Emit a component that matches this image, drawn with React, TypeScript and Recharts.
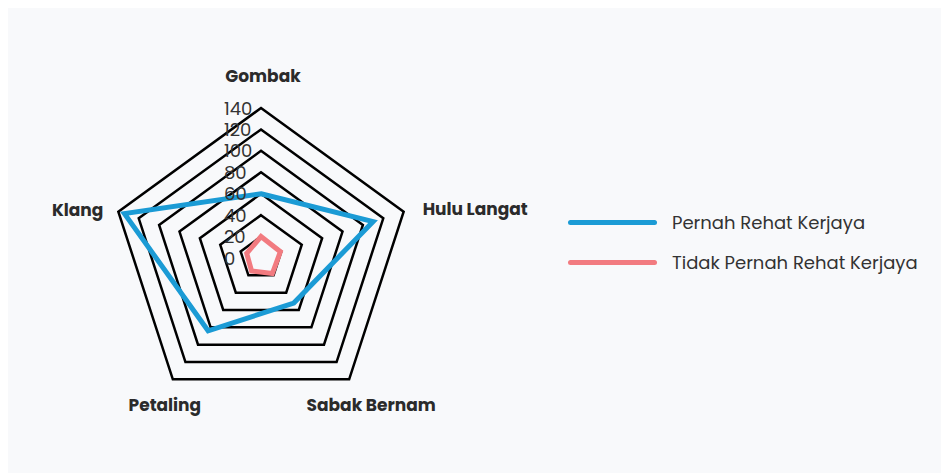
import { RadarChart, Radar, PolarGrid, PolarAngleAxis, PolarRadiusAxis, Legend } from 'recharts';

const districts = ['Gombak', 'Hulu Langat', 'Sabak Bernam', 'Petaling', 'Klang'];
const pernahRehat = [60, 110, 52, 84, 134];
const tidakPernahRehat = [20, 19, 18, 15, 14];
const radiusTicks = [0, 20, 40, 60, 80, 100, 120, 140];

const seriesNames = ['Pernah Rehat Kerjaya', 'Tidak Pernah Rehat Kerjaya'];
const COLORS = ['#1b9bd5', '#f27b80'];

const data = districts.map((name, i) => ({
  name,
  pernah: pernahRehat[i],
  tidak: tidakPernahRehat[i],
}));

const FONT = '"Poppins", "Open Sans", sans-serif';
const CX = 253;
const CY = 250;
const RADIUS = 150;

// where each district label sits relative to its outer vertex
const labelPlace: Record<string, { dx: number; dy: number; anchor: 'start' | 'middle' | 'end' }> = {
  Gombak: { dx: 2, dy: -32, anchor: 'middle' },
  'Hulu Langat': { dx: 19, dy: -3, anchor: 'start' },
  'Sabak Bernam': { dx: 22, dy: 26, anchor: 'middle' },
  Petaling: { dx: -8, dy: 26, anchor: 'middle' },
  Klang: { dx: -15, dy: -2, anchor: 'end' },
};

const AngleTick = (props: any) => {
  const { x, y, payload } = props;
  const dx = x - CX;
  const dy = y - CY;
  const len = Math.sqrt(dx * dx + dy * dy) || 1;
  const vx = CX + (dx / len) * RADIUS;
  const vy = CY + (dy / len) * RADIUS;
  const place = labelPlace[payload.value] || { dx: 0, dy: 0, anchor: 'middle' };
  return (
    <text
      x={vx + place.dx}
      y={vy + place.dy}
      textAnchor={place.anchor}
      dominantBaseline="central"
      fontFamily={FONT}
      fontWeight={700}
      fontSize={17}
      fill="#2b2b2b"
    >
      {payload.value}
    </text>
  );
};

const RadiusTick = (props: any) => {
  const { x, y, payload } = props;
  return (
    <text
      x={x - 37}
      y={y}
      textAnchor="start"
      dominantBaseline="central"
      fontFamily={FONT}
      fontSize={18}
      fill="#333"
    >
      {payload.value}
    </text>
  );
};

const LegendBox = () => (
  <div style={{ fontFamily: FONT }}>
    {seriesNames.map((name, i) => (
      <div key={name} style={{ display: 'flex', alignItems: 'center', height: 40 }}>
        <div
          style={{
            width: 89,
            height: 5,
            borderRadius: 3,
            background: COLORS[i],
            marginRight: 15,
          }}
        />
        <span style={{ fontSize: 18, color: '#333' }}>{name}</span>
      </div>
    ))}
  </div>
);

export default function App() {
  return (
    <div style={{ width: 941, height: 470, background: '#f8f9fb' }}>
      <RadarChart
        width={941}
        height={465}
        data={data}
        cx={CX}
        cy={CY}
        outerRadius={RADIUS}
        margin={{ top: 0, right: 0, bottom: 0, left: 0 }}
      >
        <PolarGrid gridType="polygon" radialLines={false} stroke="#000" strokeWidth={2.5} />
        <PolarAngleAxis dataKey="name" tick={<AngleTick />} tickLine={false} axisLine={false} />
        <PolarRadiusAxis
          angle={90}
          domain={[0, 140]}
          ticks={radiusTicks}
          tickCount={8}
          axisLine={false}
          tick={<RadiusTick />}
          tickLine={false}
        />
        <Radar
          name={seriesNames[0]}
          dataKey="pernah"
          stroke={COLORS[0]}
          strokeWidth={5}
          fill="none"
          fillOpacity={0}
          isAnimationActive={false}
        />
        <Radar
          name={seriesNames[1]}
          dataKey="tidak"
          stroke={COLORS[1]}
          strokeWidth={5}
          fill="none"
          fillOpacity={0}
          isAnimationActive={false}
        />
        <Legend
          content={<LegendBox />}
          wrapperStyle={{ left: 560, top: 194, width: 380 }}
        />
      </RadarChart>
    </div>
  );
}
